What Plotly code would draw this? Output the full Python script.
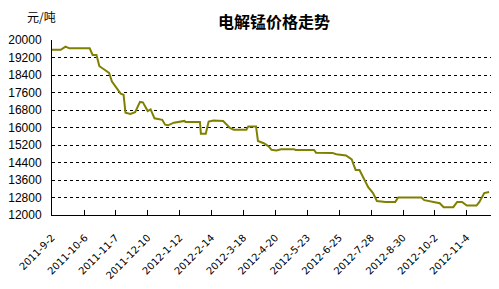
import plotly.graph_objects as go

dates = [
    "2011-09-02", "2011-09-11", "2011-09-16", "2011-09-20", "2011-10-11", "2011-10-14",
    "2011-10-18", "2011-10-21", "2011-10-26", "2011-10-31", "2011-11-03", "2011-11-07",
    "2011-11-12", "2011-11-15", "2011-11-17", "2011-11-22", "2011-11-27", "2011-12-02",
    "2011-12-05", "2011-12-10", "2011-12-13", "2011-12-17", "2011-12-25", "2011-12-28",
    "2011-12-31", "2012-01-06", "2012-01-12", "2012-01-17", "2012-01-18", "2012-02-02",
    "2012-02-03", "2012-02-08", "2012-02-11", "2012-02-16", "2012-02-26", "2012-03-01",
    "2012-03-04", "2012-03-08", "2012-03-21", "2012-03-23", "2012-03-31", "2012-04-02",
    "2012-04-08", "2012-04-13", "2012-04-16", "2012-04-21", "2012-04-26", "2012-05-09",
    "2012-05-11", "2012-05-30", "2012-06-01", "2012-06-18", "2012-06-22", "2012-07-02",
    "2012-07-08", "2012-07-10", "2012-07-12", "2012-07-16", "2012-07-19", "2012-07-22",
    "2012-07-25", "2012-07-30", "2012-08-03", "2012-08-12", "2012-08-22", "2012-08-25",
    "2012-09-18", "2012-09-21", "2012-09-29", "2012-10-07", "2012-10-11", "2012-10-21",
    "2012-10-25", "2012-10-30", "2012-11-04", "2012-11-14", "2012-11-17", "2012-11-22",
    "2012-11-27",
]
prices = [
    19550, 19550, 19700, 19620, 19620, 19320,
    19320, 18800, 18650, 18500, 18100, 17850,
    17550, 17500, 16680, 16620, 16700, 17170,
    17150, 16750, 16830, 16420, 16350, 16130,
    16100, 16220, 16260, 16300, 16250, 16250,
    15720, 15720, 16270, 16320, 16300, 16100,
    15980, 15900, 15900, 16050, 16050, 15380,
    15280, 15140, 14980, 14950, 15010, 15010,
    14970, 14970, 14850, 14840, 14780, 14720,
    14540, 14290, 14060, 14060, 13800, 13520,
    13270, 13000, 12640, 12600, 12600, 12800,
    12800, 12680, 12600, 12540, 12360, 12360,
    12600, 12600, 12430, 12430, 12600, 13000,
    13050,
]

tick_dates = [
    "2011-09-02", "2011-10-06", "2011-11-07", "2011-12-10", "2012-01-12", "2012-02-14",
    "2012-03-18", "2012-04-20", "2012-05-23", "2012-06-25", "2012-07-28", "2012-08-30",
    "2012-10-02", "2012-11-04",
]
tick_labels = [
    "2011-9-2", "2011-10-6", "2011-11-7", "2011-12-10", "2012-1-12", "2012-2-14",
    "2012-3-18", "2012-4-20", "2012-5-23", "2012-6-25", "2012-7-28", "2012-8-30",
    "2012-10-2", "2012-11-4",
]
y_ticks = [12000, 12800, 13600, 14400, 15200, 16000, 16800, 17600, 18400, 19200, 20000]

title_text = "电解锰价格走势"
unit_text = "元/吨"

fig = go.Figure()
fig.add_trace(go.Scatter(
    x=dates, y=prices, mode="lines",
    line=dict(color="#808000", width=2),
    showlegend=False, hoverinfo="skip",
))

fig.update_layout(
    width=499, height=289,
    margin=dict(l=49, r=8, t=40, b=63),
    paper_bgcolor="white", plot_bgcolor="white",
    title=dict(text="<b>" + title_text + "</b>", x=274 / 499, xanchor="center",
               y=1 - 22 / 289, yanchor="middle",
               font=dict(family="Noto Sans CJK SC", size=16, color="black")),
    annotations=[dict(text=unit_text, xref="paper", yref="paper",
                      x=-27 / 442, y=1 + 25 / 186, xanchor="left", yanchor="middle",
                      showarrow=False,
                      font=dict(family="Noto Sans CJK SC", size=12, color="black"))],
)
fig.update_xaxes(
    type="date", range=["2011-09-02", "2012-11-29"],
    tickvals=tick_dates, ticktext=tick_labels, tickangle=-45,
    ticks="inside", ticklen=5, tickcolor="black",
    showline=True, linecolor="black", linewidth=1,
    showgrid=False, zeroline=False,
    tickfont=dict(family="DejaVu Sans", size=10, color="black"),
    ticklabelstandoff=12,
)
fig.update_yaxes(
    range=[12000, 20000], tickvals=y_ticks, tickformat="d", ticks="",
    showline=True, linecolor="black", linewidth=1,
    showgrid=True, gridcolor="black", griddash="3px,3px", gridwidth=1,
    zeroline=False, ticklabelstandoff=7,
    tickfont=dict(family="Liberation Sans", size=12, color="black"),
)

fig.write_html("out.html")
